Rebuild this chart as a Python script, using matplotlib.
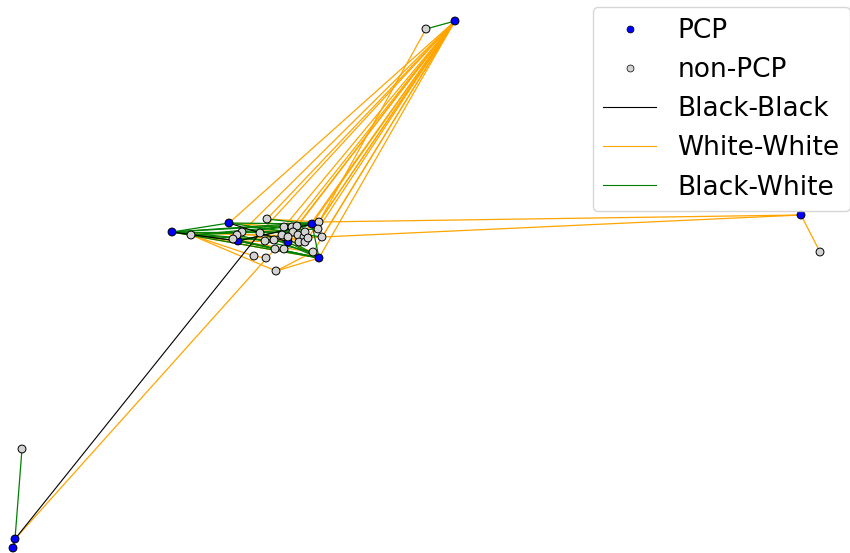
import numpy as np
import matplotlib
matplotlib.use("Agg")
import matplotlib.pyplot as plt
from matplotlib.collections import LineCollection
from matplotlib.lines import Line2D

# node layout (x, y), y grows upward
node_x = [288, 455, 172, 229, 238, 312, 319, 801, 15, 13,
          426, 820, 22, 191, 242, 237, 233, 267, 260, 265,
          274, 284, 292, 297, 319, 318, 322, 282, 293, 298,
          304, 305, 299, 305, 308, 275, 284, 313, 254, 266,
          276, 288]
node_y = [311, 532, 321, 330, 312, 329, 295, 338, 14, 5,
          524, 301, 104, 318, 321, 318, 314, 334, 320, 312,
          313, 326, 326, 327, 331, 324, 316, 318, 321, 318,
          316, 321, 311, 311, 315, 304, 304, 301, 297, 295,
          282, 316]
pcp = [1, 1, 1, 1, 1, 1, 1, 1, 1, 1] + [0] * 32

# node ids: 0 hidden blue, 1 top blue, 2 left blue, 3..6 cluster blue,
# 7 right blue, 8/9 bottom blue, 10.. non-PCP
edges_ww = [(1, 3), (1, 14), (1, 17), (1, 21), (1, 22), (1, 23), (1, 24), (1, 25),
            (1, 26), (1, 28), (1, 31), (1, 34), (1, 37), (1, 6), (1, 5), (1, 18),
            (10, 24), (7, 11), (7, 24), (7, 26), (8, 35),
            (2, 26), (2, 37), (13, 40), (13, 6), (40, 37), (2, 6), (13, 38),
            (38, 39), (40, 6), (17, 24), (3, 21), (13, 33), (2, 30), (16, 29),
            (19, 34), (14, 25), (18, 37), (4, 32), (20, 26), (35, 6)]
edges_bw = [(1, 10), (8, 12), (2, 5), (2, 3), (2, 0), (2, 4), (2, 6), (3, 5),
            (5, 6), (6, 4), (13, 5), (13, 0), (4, 6), (16, 6), (17, 5), (0, 6),
            (14, 5), (15, 37), (2, 31), (3, 26), (18, 6), (19, 5), (27, 6),
            (2, 24), (13, 25), (4, 24)]
edges_bb = [(8, 18), (3, 0), (4, 5), (2, 4), (8, 9)]

fig = plt.figure(figsize=(8.5, 5.53), dpi=100)
ax = fig.add_axes([0, 0, 1, 1])
pos = np.column_stack([node_x, node_y])


def draw_edges(edges, color, lw, z):
    segs = [[pos[a], pos[b]] for a, b in edges]
    ax.add_collection(LineCollection(segs, colors=color, linewidths=lw, zorder=z))


draw_edges(edges_ww, "orange", 0.9, 1)
draw_edges(edges_bw, "green", 0.9, 2)
draw_edges(edges_bb, "black", 0.8, 3)

colors = ["blue" if p else "lightgray" for p in pcp]
ax.scatter(pos[:, 0], pos[:, 1], s=32, c=colors, edgecolors="black",
           linewidths=0.7, zorder=4)

ax.set_xlim(0, 850)
ax.set_ylim(0, 553)
ax.axis("off")

handles = [
    Line2D([], [], ls="none", marker="o", ms=5, mfc="blue", mec="black", mew=0.5),
    Line2D([], [], ls="none", marker="o", ms=5, mfc="lightgray", mec="black", mew=0.5),
    Line2D([], [], color="black", lw=0.8),
    Line2D([], [], color="orange", lw=0.8),
    Line2D([], [], color="green", lw=0.8),
]
labels = ["PCP", "non-PCP", "Black-Black", "White-White", "Black-White"]
fig.legend(handles, labels, loc="upper right", bbox_to_anchor=(1.0, 0.987),
           borderaxespad=0, fontsize=19, labelspacing=0.5)

fig.savefig("out.png", dpi=100)
